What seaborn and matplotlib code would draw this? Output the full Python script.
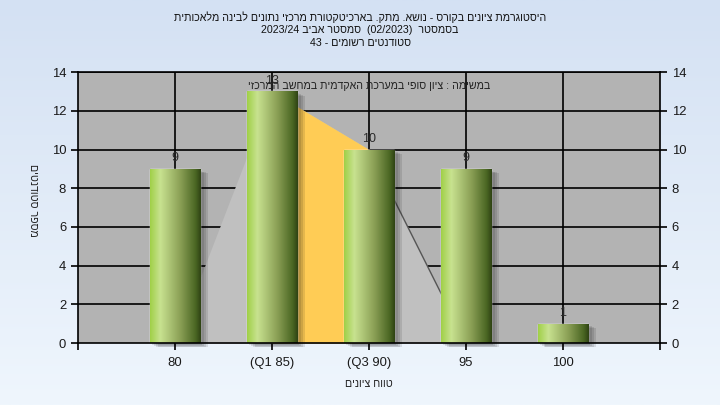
import re
import numpy as np
import pandas as pd
import seaborn as sns
import matplotlib.pyplot as plt
from matplotlib.patches import Rectangle
from matplotlib.colors import LinearSegmentedColormap

# data
grades = ["80", "(Q1 85)", "(Q3 90)", "95", "100"]
students = [9, 13, 10, 9, 1]
curve_vals = [0, 13, 10, 0, 0]   # background polygon
q1_idx, q3_idx = 1, 2

title_lines = [
    "היסטוגרמת ציונים בקורס - נושא. מתק. בארכיטקטורת מרכזי נתונים לבינה מלאכותית",
    "בסמסטר  (02/2023)  סמסטר אביב 2023/24",
    "סטודנטים רשומים - 43",
]
task_note = "במשימה : ציון סופי במערכת האקדמית במחשב המרכזי"
x_title = "טווח ציונים"
y_title = "מספר סטודנטים"


def vis(s):
    # the reference shows the characters in stored order, left to right;
    # the text engine here reorders rtl runs, so undo that up front
    parts = re.findall(r"\d[\d/]*\d|\d|.", s)
    return "".join(reversed(parts)).translate(str.maketrans("()", ")("))


sns.set_theme(style="white")
plt.rcParams["font.family"] = ["Liberation Sans", "DejaVu Sans"]
heb_size = 7.7
tick_size = 9.4

fig = plt.figure(figsize=(7.2, 4.05), dpi=100)

# light blue gradient behind everything
bg = fig.add_axes([0, 0, 1, 1], zorder=-10)
grad = np.linspace(0, 1, 256).reshape(-1, 1)
bg_cmap = LinearSegmentedColormap.from_list("bg", ["#d4e1f3", "#eff6fd"])
bg.imshow(grad, cmap=bg_cmap, aspect="auto", extent=(0, 1, 0, 1))
bg.axis("off")

ax = fig.add_axes([0.1083, 0.153, 0.8083, 0.669])
ax.set_facecolor("#b3b3b3")

df = pd.DataFrame({"grade": grades, "students": students})
pos = np.arange(len(grades))

# grid lines under the polygon
for v in range(2, 15, 2):
    ax.axhline(v, color="black", lw=1.2, zorder=0.5)
for p in pos:
    ax.axvline(p, color="black", lw=1.2, zorder=0.5)

# background polygon with the Q1-Q3 band in orange
ax.fill_between(pos, curve_vals, color="#c0c0c0", lw=0, zorder=1)
ax.fill_between(pos[q1_idx:q3_idx + 1], curve_vals[q1_idx:q3_idx + 1],
                color="#ffcc55", lw=0, zorder=1.1)
ax.plot(pos[2:4], curve_vals[2:4], color="#555555", lw=1, zorder=1.2)
ax.plot(pos[3:5], curve_vals[3:5], color="#8a8a8a", lw=1, zorder=1.2)

sns.barplot(data=df, x="grade", y="students", color="#8fb04a", width=0.52,
            saturation=1, ax=ax, zorder=3)

bar_cmap = LinearSegmentedColormap.from_list(
    "bar", [(0, "#a0d048"), (0.2, "#c8e290"), (0.6, "#8a9f55"),
            (0.9, "#4a6623"), (1, "#2f4314")])
hgrad = np.linspace(0, 1, 128).reshape(1, -1)
for patch in ax.patches:
    x0, y0 = patch.get_x(), patch.get_y()
    w, h = patch.get_width(), patch.get_height()
    # soft shadow to the right
    for k in range(4):
        ax.add_patch(Rectangle((x0 + 0.02 + k * 0.02, y0 - 0.1 - k * 0.04),
                               w, h, color="black", alpha=0.1, lw=0,
                               zorder=2, clip_on=False))
    im = ax.imshow(hgrad, cmap=bar_cmap, aspect="auto",
                   extent=(x0, x0 + w, y0, y0 + h), zorder=3.1)
    im.set_clip_path(patch)

for p, v in zip(pos, students):
    ax.text(p, v + 0.25, str(v), ha="center", va="bottom", fontsize=9,
            color="#2a2a2a", zorder=5)

ax.text(2, 13.3, vis(task_note), ha="center", va="center", fontsize=heb_size,
        color="#222222", zorder=5)

ax.set_xlim(-1, 5)
ax.set_ylim(0, 14)
ax.set_xticks([-1, 0, 1, 2, 3, 4, 5])
ax.set_xticklabels([""] + grades + [""], fontsize=tick_size, color="#1a1a1a")
ax.set_yticks(range(0, 15, 2))
ax.tick_params(axis="y", labelsize=tick_size, labelcolor="#1a1a1a", length=5,
               width=1.2, color="black", left=True)
ax.tick_params(axis="x", length=5, width=1.2, color="black", bottom=True, pad=5)
for s in ax.spines.values():
    s.set_color("black")
    s.set_linewidth(1.2)
    s.set_zorder(6)

ax2 = ax.twinx()
ax2.set_ylim(0, 14)
ax2.set_yticks(range(0, 15, 2))
ax2.tick_params(axis="y", labelsize=tick_size, labelcolor="#1a1a1a", length=5,
                width=1.2, color="black", right=True)
ax2.grid(False)
for s in ax2.spines.values():
    s.set_visible(False)

ax.set_xlabel(vis(x_title), fontsize=heb_size, color="#222222", labelpad=7)
ax.set_ylabel("")
ax.grid(False)
fig.text(33 / 720, 1 - 200 / 405, vis(y_title), rotation=270, ha="center",
         va="center", fontsize=heb_size, color="#222222")

for i, line in enumerate(title_lines):
    fig.text(0.5, 1 - (17 + 13 * i) / 405, vis(line), ha="center", va="center",
             fontsize=heb_size, color="#111111")

fig.savefig("out.png", dpi=100)
